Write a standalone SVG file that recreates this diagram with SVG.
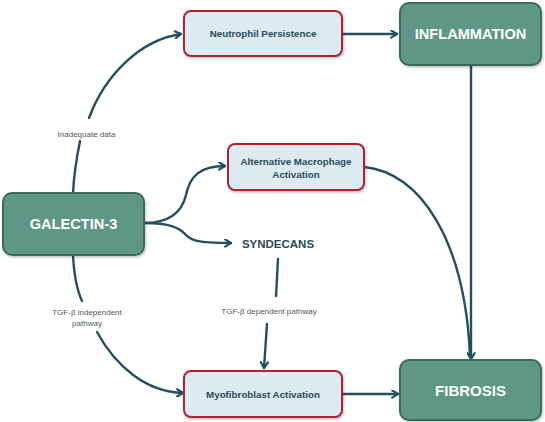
<svg xmlns="http://www.w3.org/2000/svg" width="545" height="422" viewBox="0 0 545 422">
<style>
.green rect{fill:#5f9786;stroke:#3c6a5e;stroke-width:2}
.light rect{fill:#dceaf2;stroke:#b1232c;stroke-width:2}
.gt{font-family:"Liberation Sans",Arial,sans-serif;font-weight:bold;fill:#ffffff;text-anchor:middle;dominant-baseline:central}
.lt{font-family:"Liberation Sans",Arial,sans-serif;font-weight:bold;fill:#2b4a5a;font-size:9.8px;text-anchor:middle;dominant-baseline:central}
.lbl{font-family:"Liberation Sans",Arial,sans-serif;fill:#505a60;font-size:8px;text-anchor:middle;dominant-baseline:central}
#connectors path{fill:none;stroke:#264f5e;stroke-width:2.4;stroke-linecap:round}
</style>
<defs>
<marker id="arr" viewBox="0 0 10 10" refX="8" refY="5" markerWidth="9" markerHeight="9" markerUnits="userSpaceOnUse" orient="auto">
<path d="M1.5,1 L8,5 L1.5,9" fill="none" stroke="#264f5e" stroke-width="2.4" stroke-linecap="round" stroke-linejoin="round"/>
</marker>
<filter id="sh" x="-10%" y="-10%" width="130%" height="140%">
<feDropShadow dx="1" dy="1.5" stdDeviation="1.2" flood-color="#000" flood-opacity="0.25"/>
</filter>
</defs>
<rect width="545" height="422" fill="#ffffff"/>
<g id="connectors">
<path d="M73,193 C74,172 77,156 80,141"/>
<path d="M89,118 C105,75 140,40 181,34" marker-end="url(#arr)"/>
<path d="M342,34 L397,34" marker-end="url(#arr)"/>
<path d="M471,65 L471,359" marker-end="url(#arr)"/>
<path d="M144,223 C170,223 182,212 186,195 C190,176 200,166 225,166" marker-end="url(#arr)"/>
<path d="M144,223 C170,223 180,228 186,235 C192,242 205,243 231,243" marker-end="url(#arr)"/>
<path d="M364,167 C420,172 465,240 470,356"/>
<path d="M73,255 C74,275 77,290 82,301"/>
<path d="M97,332 C115,365 145,392 183,393" marker-end="url(#arr)"/>
<path d="M278,259 L276,296"/>
<path d="M267,324 L264,368" marker-end="url(#arr)"/>
<path d="M342,394 L398,394" marker-end="url(#arr)"/>
</g>
<g id="labels">
<text class="lbl" x="86.5" y="134.5">Inadequate data</text>
<text class="lbl" x="87" y="312">TGF-β independent</text>
<text class="lbl" x="87" y="323">pathway</text>
<text class="lbl" x="269" y="311">TGF-β dependent pathway</text>
</g>
<g id="neutrophil" class="light">
<rect x="184" y="11" width="158" height="45" rx="7" filter="url(#sh)"/>
<text class="lt" x="263" y="33.5">Neutrophil Persistence</text>
</g>
<g id="inflammation" class="green">
<rect x="400" y="3" width="141" height="62" rx="9" filter="url(#sh)"/>
<text class="gt" x="470.5" y="34" font-size="14.6">INFLAMMATION</text>
</g>
<g id="galectin" class="green">
<rect x="3" y="193" width="141" height="62" rx="9" filter="url(#sh)"/>
<text class="gt" x="73.5" y="224" font-size="14.6">GALECTIN-3</text>
</g>
<g id="macrophage" class="light">
<rect x="228" y="144" width="136" height="46" rx="7" filter="url(#sh)"/>
<text class="lt" x="296" y="161.5">Alternative Macrophage</text>
<text class="lt" x="296" y="174">Activation</text>
</g>
<g id="syndecans">
<text x="278" y="244" font-family="'Liberation Sans',Arial,sans-serif" font-weight="bold" font-size="11.5" fill="#2b4a5a" text-anchor="middle" dominant-baseline="central">SYNDECANS</text>
</g>
<g id="myofibroblast" class="light">
<rect x="184" y="371" width="158" height="46" rx="7" filter="url(#sh)"/>
<text class="lt" x="263" y="394">Myofibroblast Activation</text>
</g>
<g id="fibrosis" class="green">
<rect x="400" y="360" width="141" height="60" rx="9" filter="url(#sh)"/>
<text class="gt" x="470.5" y="390" font-size="15">FIBROSIS</text>
</g>
</svg>
